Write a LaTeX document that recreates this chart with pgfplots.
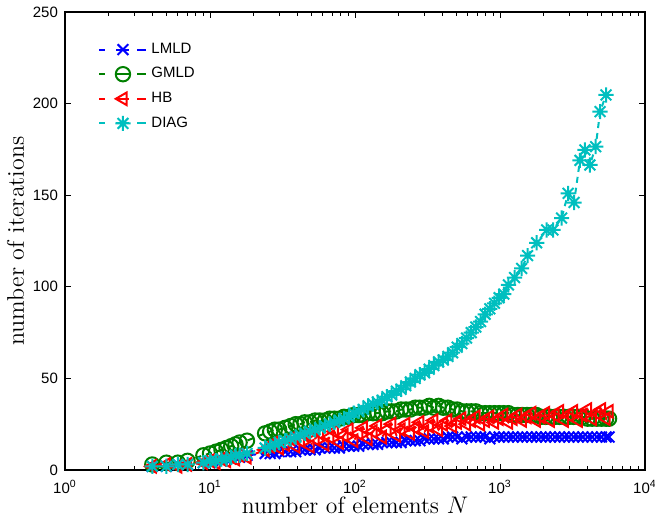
\documentclass[border=0pt]{standalone}
\usepackage{pgfplots}
\pgfplotsset{compat=1.18}
\usepackage{pgfplotstable}
\usepackage{fontspec}
\setmainfont{Liberation Sans}
\newfontfamily\lmr{Latin Modern Roman}
\definecolor{mblue}{rgb}{0,0,1}
\definecolor{mgreen}{rgb}{0,0.5,0}
\definecolor{mred}{rgb}{1,0,0}
\definecolor{mcyan}{rgb}{0,0.75,0.75}

\pgfdeclareplotmark{mstar}{%
  \pgfpathmoveto{\pgfqpoint{0pt}{\pgfplotmarksize}}%
  \pgfpathlineto{\pgfqpoint{0pt}{-\pgfplotmarksize}}%
  \pgfpathmoveto{\pgfqpoint{\pgfplotmarksize}{0pt}}%
  \pgfpathlineto{\pgfqpoint{-\pgfplotmarksize}{0pt}}%
  \pgfpathmoveto{\pgfqpoint{.70710678\pgfplotmarksize}{.70710678\pgfplotmarksize}}%
  \pgfpathlineto{\pgfqpoint{-.70710678\pgfplotmarksize}{-.70710678\pgfplotmarksize}}%
  \pgfpathmoveto{\pgfqpoint{-.70710678\pgfplotmarksize}{.70710678\pgfplotmarksize}}%
  \pgfpathlineto{\pgfqpoint{.70710678\pgfplotmarksize}{-.70710678\pgfplotmarksize}}%
  \pgfusepathqstroke}

\pgfplotstableread{
N v
4 2
5 2
6 3
7 3
9 4
10 4
11 5
12 5
13 6
14 6
15 7
16 7
18 8
24 9
26 9
28 9
30 10
33 10
36 10
39 10
42 11
45 11
49 11
53 11
57 12
62 12
67 12
72 12
78 12
84 13
91 13
98 13
106 13
114 14
123 14
133 14
143 14
154 15
166 15
179 15
193 15
208 15
224 16
241 16
260 16
280 16
302 17
325 17
350 17
377 17
406 17
437 18
471 18
507 18
546 17
588 18
633 18
682 18
734 18
790 18
851 17
916 18
986 18
1062 18
1143 18
1231 18
1325 18
1427 18
1536 18
1654 18
1781 18
1917 18
2064 18
2222 18
2393 18
2576 18
2774 18
2987 18
3216 18
3462 18
3728 18
4014 18
4322 18
4653 18
5010 18
5394 18
5650 18
}\lmld

\pgfplotstableread{
N v
4 3
5 4
6 4
7 5
9 8
10 9
11 10
12 11
13 12
14 13
15 14
16 15
18 16
24 20
26 21
28 22
30 22
33 23
36 24
39 25
42 25
45 26
49 26
53 27
57 27
62 27
67 28
72 28
78 28
84 29
91 29
98 30
106 30
114 30
123 31
133 31
143 31
154 31
166 32
179 32
193 32
208 33
224 33
241 33
260 34
280 34
302 34
325 35
350 34
377 35
406 34
437 34
471 33
507 33
546 32
588 32
633 32
682 32
734 31
790 31
851 31
916 31
986 31
1062 31
1143 31
1231 30
1325 30
1427 30
1536 30
1654 30
1781 30
1917 29
2064 29
2222 29
2393 29
2576 29
2774 29
2987 29
3216 29
3462 29
3728 29
4014 28
4322 28
4653 28
5010 28
5394 28
5650 28
}\gmld

\pgfplotstableread{
N v
4 2
5 3
6 2
7 3
9 4
10 5
11 4
12 6
13 5
14 7
15 6
16 8
18 7
24 11
26 13
28 15
30 12
33 14
36 17
39 13
42 16
45 19
49 13
53 17
57 20
62 14
67 18
72 21
78 15
84 19
91 22
98 16
106 20
114 23
123 17
133 21
143 24
154 18
166 22
179 25
193 19
208 22
224 25
241 20
260 23
280 26
302 21
325 24
350 27
377 22
406 25
437 27
471 24
507 26
546 28
588 25
633 27
682 29
734 25
790 27
851 29
916 26
986 28
1062 30
1143 26
1231 28
1325 30
1427 27
1536 29
1654 31
1781 27
1917 29
2064 31
2222 27
2393 30
2576 32
2774 27
2987 30
3216 32
3462 27
3728 30
4014 33
4322 28
4653 31
5010 33
5394 28
5650 32
}\hb

\pgfplotstableread{
N v
4 2
5 2
6 3
7 3
9 4
10 5
11 5
12 6
13 6
14 7
15 8
16 8
18 9
24 12
26 13
28 14
30 15
33 16
36 17
39 18
42 19
45 20
49 21
53 22
57 23
62 24
67 25
72 26
78 27
84 28
91 29
98 31
106 32
114 33
123 35
133 36
143 37
154 38
166 40
179 41
193 43
208 44
224 46
241 48
260 50
280 52
302 53
325 55
350 57
377 59
406 60
437 62
471 64
507 67
546 69
588 72
633 75
682 78
734 81
790 85
851 88
916 91
986 94
1062 96
1143 101
1260 105
1410 110
1550 117
1790 124
2100 131
2320 131
2660 137.5
2950 151
3240 146
3560 169
3855 174.7
4170 166.5
4570 176.5
4900 195.6
5383 204.7
}\diag

\begin{document}
\begin{tikzpicture}
\begin{axis}[
  xmode=log,
  scale only axis,
  width=290pt, height=229pt,
  xmin=1, xmax=10000, ymin=0, ymax=250,
  xtick={1,10,100,1000,10000},
  xticklabels={10\textsuperscript{0},10\textsuperscript{1},10\textsuperscript{2},10\textsuperscript{3},10\textsuperscript{4}},
  ytick={0,50,100,150,200,250},
  tick align=inside,
  major tick length=3pt,
  minor tick length=1.8pt,
  /pgf/number format/assume math mode=true,
  tick label style={font=\fontsize{7.5}{9}\selectfont},
  xticklabel style={yshift=-1.5pt},
  axis line style={line width=0.6pt},
  tick style={line width=0.5pt, black},
  xlabel={\lmr\fontsize{11.8}{14}\selectfont number of elements $N$},
  ylabel={\lmr\fontsize{12}{14}\selectfont number of iterations},
  every axis x label/.style={at={([yshift=-22pt]axis description cs:0.5,0)}, anchor=base},
  every axis y label/.style={at={([xshift=-20.5pt]axis description cs:0,0.5)}, anchor=base, rotate=90},
  every axis plot/.append style={line width=1pt, dash pattern=on 3pt off 2.5pt},
  legend style={at={(axis description cs:0.057,0.942)}, anchor=north west,
    draw=none, fill=none, inner sep=0pt, row sep=1.6pt,
    font=\fontsize{7.5}{9}\selectfont},
  legend cell align=left,
  legend image code/.code={%
    \draw[#1,solid] (0pt,0pt)--(3pt,0pt) (8.5pt,0pt)--(15pt,0pt) (19pt,0pt)--(23.5pt,0pt);
    \draw[#1] plot coordinates {(11.75pt,0pt)};},
]
\addplot[color=mblue, mark=x, mark size=3.8pt, mark options={solid, line width=1pt}] table[x=N,y=v] {\lmld};
\addlegendentry{LMLD}
\addplot[color=mgreen, mark=o, mark size=3.6pt, mark options={solid, line width=1pt}] table[x=N,y=v] {\gmld};
\addlegendentry{GMLD}
\addplot[color=mred, mark=triangle, mark size=3.6pt, mark options={solid, rotate=90, line width=1pt}] table[x=N,y=v] {\hb};
\addlegendentry{HB}
\addplot[color=mcyan, mark=mstar, mark size=3.8pt, mark options={solid, line width=1pt}] table[x=N,y=v] {\diag};
\addlegendentry{DIAG}
\end{axis}
\pgfresetboundingbox
\path ([xshift=-32.5pt,yshift=-25.5pt]current axis.south west) rectangle ([xshift=5pt,yshift=6pt]current axis.north east);
\end{tikzpicture}
\end{document}
